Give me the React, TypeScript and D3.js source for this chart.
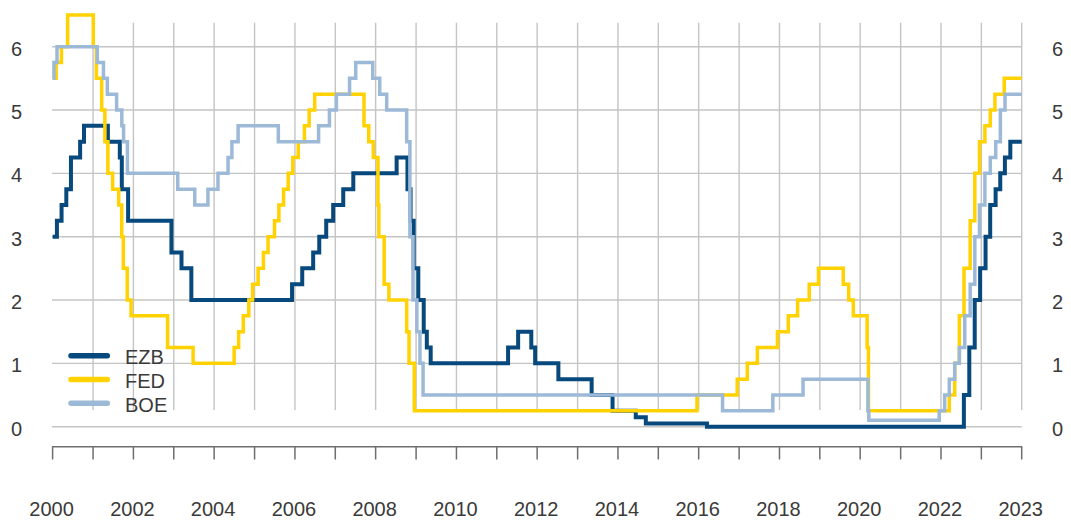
import React from "react";
import * as d3 from "d3";

// Step-change points [date, rate %]
const ezbRates: [string, number][] = [
  ["2000-01-01", 3.0], ["2000-02-09", 3.25], ["2000-03-22", 3.5], ["2000-05-04", 3.75],
  ["2000-06-15", 4.25], ["2000-09-06", 4.5], ["2000-10-11", 4.75], ["2001-05-15", 4.5],
  ["2001-08-31", 4.25], ["2001-09-18", 3.75], ["2001-11-14", 3.25], ["2002-12-11", 2.75],
  ["2003-03-12", 2.5], ["2003-06-09", 2.0], ["2005-12-06", 2.25], ["2006-03-08", 2.5],
  ["2006-06-15", 2.75], ["2006-08-09", 3.0], ["2006-10-11", 3.25], ["2006-12-13", 3.5],
  ["2007-03-14", 3.75], ["2007-06-13", 4.0], ["2008-07-09", 4.25], ["2008-10-15", 3.75],
  ["2008-11-12", 3.25], ["2008-12-10", 2.5], ["2009-01-21", 2.0], ["2009-03-11", 1.5],
  ["2009-04-08", 1.25], ["2009-05-13", 1.0], ["2011-04-13", 1.25], ["2011-07-13", 1.5],
  ["2011-11-09", 1.25], ["2011-12-14", 1.0], ["2012-07-11", 0.75], ["2013-05-08", 0.5],
  ["2013-11-13", 0.25], ["2014-06-11", 0.15], ["2014-09-10", 0.05], ["2016-03-16", 0.0],
  ["2022-07-27", 0.5], ["2022-09-14", 1.25], ["2022-11-02", 2.0], ["2022-12-21", 2.5],
  ["2023-02-08", 3.0], ["2023-03-22", 3.5], ["2023-05-10", 3.75], ["2023-06-21", 4.0],
  ["2023-08-02", 4.25], ["2023-09-20", 4.5], ["2024-01-01", 4.5],
];

const fedRates: [string, number][] = [
  ["2000-01-01", 5.5], ["2000-02-02", 5.75], ["2000-03-21", 6.0], ["2000-05-16", 6.5],
  ["2001-01-03", 6.0], ["2001-01-31", 5.5], ["2001-03-20", 5.0], ["2001-04-18", 4.5],
  ["2001-05-15", 4.0], ["2001-06-27", 3.75], ["2001-08-21", 3.5], ["2001-09-17", 3.0],
  ["2001-10-02", 2.5], ["2001-11-06", 2.0], ["2001-12-11", 1.75], ["2002-11-06", 1.25],
  ["2003-06-25", 1.0], ["2004-06-30", 1.25], ["2004-08-10", 1.5], ["2004-09-21", 1.75],
  ["2004-11-10", 2.0], ["2004-12-14", 2.25], ["2005-02-02", 2.5], ["2005-03-22", 2.75],
  ["2005-05-03", 3.0], ["2005-06-30", 3.25], ["2005-08-09", 3.5], ["2005-09-20", 3.75],
  ["2005-11-01", 4.0], ["2005-12-13", 4.25], ["2006-01-31", 4.5], ["2006-03-28", 4.75],
  ["2006-05-10", 5.0], ["2006-06-29", 5.25], ["2007-09-18", 4.75], ["2007-10-31", 4.5],
  ["2007-12-11", 4.25], ["2008-01-22", 3.5], ["2008-01-30", 3.0], ["2008-03-18", 2.25],
  ["2008-04-30", 2.0], ["2008-10-08", 1.5], ["2008-10-29", 1.0], ["2008-12-16", 0.25],
  ["2015-12-17", 0.5], ["2016-12-15", 0.75], ["2017-03-16", 1.0], ["2017-06-15", 1.25],
  ["2017-12-14", 1.5], ["2018-03-22", 1.75], ["2018-06-14", 2.0], ["2018-09-27", 2.25],
  ["2018-12-20", 2.5], ["2019-08-01", 2.25], ["2019-09-19", 2.0], ["2019-10-31", 1.75],
  ["2020-03-04", 1.25], ["2020-03-16", 0.25], ["2022-03-17", 0.5], ["2022-05-05", 1.0],
  ["2022-06-16", 1.75], ["2022-07-28", 2.5], ["2022-09-22", 3.25], ["2022-11-03", 4.0],
  ["2022-12-15", 4.5], ["2023-02-02", 4.75], ["2023-03-23", 5.0], ["2023-05-04", 5.25],
  ["2023-07-27", 5.5], ["2024-01-01", 5.5],
];

const boeRates: [string, number][] = [
  ["2000-01-01", 5.5], ["2000-01-13", 5.75], ["2000-02-10", 6.0], ["2001-02-08", 5.75],
  ["2001-04-05", 5.5], ["2001-05-10", 5.25], ["2001-08-02", 5.0], ["2001-09-18", 4.75],
  ["2001-10-04", 4.5], ["2001-11-08", 4.0], ["2003-02-06", 3.75], ["2003-07-10", 3.5],
  ["2003-11-06", 3.75], ["2004-02-05", 4.0], ["2004-05-06", 4.25], ["2004-06-10", 4.5],
  ["2004-08-05", 4.75], ["2005-08-04", 4.5], ["2006-08-03", 4.75], ["2006-11-09", 5.0],
  ["2007-01-11", 5.25], ["2007-05-10", 5.5], ["2007-07-05", 5.75], ["2007-12-06", 5.5],
  ["2008-02-07", 5.25], ["2008-04-10", 5.0], ["2008-10-08", 4.5], ["2008-11-06", 3.0],
  ["2008-12-04", 2.0], ["2009-01-08", 1.5], ["2009-02-05", 1.0], ["2009-03-05", 0.5],
  ["2016-08-04", 0.25], ["2017-11-02", 0.5], ["2018-08-02", 0.75], ["2020-03-11", 0.25],
  ["2020-03-19", 0.1], ["2021-12-16", 0.25], ["2022-02-03", 0.5], ["2022-03-17", 0.75],
  ["2022-05-05", 1.0], ["2022-06-16", 1.25], ["2022-08-04", 1.75], ["2022-09-22", 2.25],
  ["2022-11-03", 3.0], ["2022-12-15", 3.5], ["2023-02-02", 4.0], ["2023-03-23", 4.25],
  ["2023-05-11", 4.5], ["2023-06-22", 5.0], ["2023-08-03", 5.25], ["2024-01-01", 5.25],
];

const seriesNames = ["EZB", "FED", "BOE"];
const seriesColors = ["#07497d", "#ffd200", "#9db9d8"];
const seriesWidths = [4, 3.5, 3.5];
const yTicks = [0, 1, 2, 3, 4, 5, 6];
const xLabelYears = [2000, 2002, 2004, 2006, 2008, 2010, 2012, 2014, 2016, 2018, 2020, 2022];
const lastLabel = "2023";

const W = 1071;
const H = 523;
const FONT = "'Liberation Sans', Arial, Helvetica, sans-serif";

export default function App() {
  const parse = d3.timeParse("%Y-%m-%d");
  const x = d3
    .scaleTime()
    .domain([new Date(2000, 0, 1), new Date(2024, 0, 1)])
    .range([52.6, 1021.7]);
  const y = d3.scaleLinear().domain([0, 6]).range([426.7, 46.7]);

  const allSeries = [ezbRates, fedRates, boeRates].map((s) =>
    s.map(([d, v]) => ({ date: parse(d) as Date, value: v }))
  );
  const line = d3
    .line<{ date: Date; value: number }>()
    .x((d) => x(d.date))
    .y((d) => y(d.value))
    .curve(d3.curveStepAfter);

  const yearTicks = d3.range(2000, 2025).map((yr) => new Date(yr, 0, 1));
  const gridTop = 22.7;
  const gridBottom = 410;
  const axisY = 446.7;
  const textColor = "#3a3a3a";

  return (
    <svg
      width={W}
      height={H}
      style={{ position: "absolute", left: 0, top: 0, background: "#fff" }}
      fontFamily={FONT}
    >
      {/* vertical gridlines */}
      {yearTicks.slice(1).map((d, i) => (
        <line
          key={"vg" + i}
          x1={x(d)}
          x2={x(d)}
          y1={gridTop}
          y2={gridBottom}
          stroke="#c4c4c4"
          strokeWidth={1.4}
        />
      ))}
      {/* horizontal gridlines */}
      {yTicks.map((t) => (
        <line
          key={"hg" + t}
          x1={x.range()[0] - 0.6}
          x2={x.range()[1]}
          y1={y(t)}
          y2={y(t)}
          stroke="#c4c4c4"
          strokeWidth={1.4}
        />
      ))}
      {/* y labels left & right */}
      {yTicks.map((t) => (
        <g key={"yl" + t}>
          <text x={16.5} y={y(t) + 2} textAnchor="middle" dominantBaseline="central" fontSize={20} fill={textColor}>
            {t}
          </text>
          <text x={1057.5} y={y(t) + 2} textAnchor="middle" dominantBaseline="central" fontSize={20} fill={textColor}>
            {t}
          </text>
        </g>
      ))}
      {/* bottom axis */}
      <line x1={x.range()[0] - 0.6} x2={x.range()[1] + 0.6} y1={axisY} y2={axisY} stroke="#6e6e6e" strokeWidth={1.5} />
      {yearTicks.map((d, i) => (
        <line key={"tk" + i} x1={x(d)} x2={x(d)} y1={axisY} y2={459.5} stroke="#6e6e6e" strokeWidth={1.5} />
      ))}
      {xLabelYears.map((yr) => (
        <text key={"xl" + yr} x={x(new Date(yr, 0, 1)) - 1} y={516} textAnchor="middle" fontSize={20} fill={textColor}>
          {yr}
        </text>
      ))}
      <text x={x(new Date(2024, 0, 1)) - 1} y={516} textAnchor="middle" fontSize={20} fill={textColor}>
        {lastLabel}
      </text>
      {/* series */}
      {allSeries.map((s, i) => (
        <path
          key={"s" + i}
          d={line(s) || ""}
          fill="none"
          stroke={seriesColors[i]}
          strokeWidth={seriesWidths[i]}
          strokeLinejoin="miter"
        />
      ))}
      {/* legend */}
      {seriesNames.map((name, i) => {
        const ly = 355.7 + i * 23.8;
        return (
          <g key={"lg" + name}>
            <line x1={71} x2={107.3} y1={ly} y2={ly} stroke={seriesColors[i]} strokeWidth={5.5} strokeLinecap="round" />
            <text x={125} y={ly + 1.5} dominantBaseline="central" fontSize={20} fill={textColor}>
              {name}
            </text>
          </g>
        );
      })}
    </svg>
  );
}
